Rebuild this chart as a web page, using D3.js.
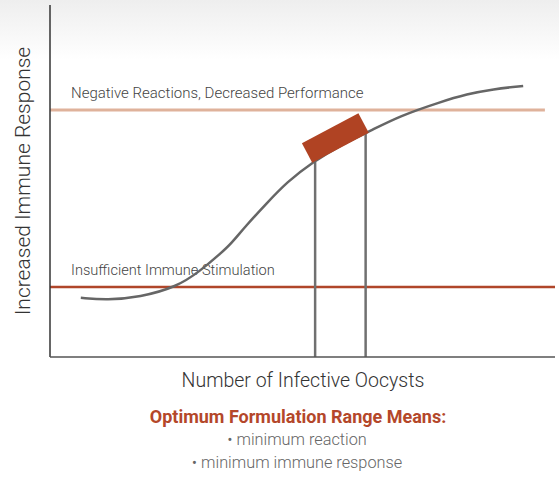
<!DOCTYPE html>
<html>
<head>
<meta charset="utf-8">
<script src="https://cdn.jsdelivr.net/npm/d3@7"></script>
<style>
  html, body { margin: 0; padding: 0; background: #fff; }
  svg { display: block; }
</style>
</head>
<body>
<script>
// ---- Data (abstract units: x 0..100 oocysts, y 0..100 immune response) ----
const curveX = [6.1, 11.3, 17.8, 25.1, 29.7, 33.7, 36.0, 38.6, 43.0, 46.9, 52.1, 57.4, 63.4, 69.3, 77.2, 82.6, 87.7, 93.7];
const curveY = [16.8, 16.2, 17.0, 19.9, 24.4, 29.3, 32.4, 37.0, 43.8, 49.7, 55.4, 60.1, 64.2, 68.5, 72.4, 74.7, 76.1, 77.0];
const thresholdNames = ["Negative Reactions, Decreased Performance", "Insufficient Immune Stimulation"];
const thresholdValues = [70.2, 19.9];
const thresholdEnds = [98, 100];
const optimumRange = [52.5, 62.5];
const optimumTops = [55.4, 63.5];
const optimumCenter = [56.5, 62.2];
const xLabel = "Number of Infective Oocysts";
const yLabel = "Increased Immune Response";
const noteTitle = "Optimum Formulation Range Means:";
const noteItems = ["minimum reaction", "minimum immune response"];

const W = 559, H = 477;
const svg = d3.select("body").append("svg").attr("width", W).attr("height", H);

// background gradient
const defs = svg.append("defs");
const grad = defs.append("linearGradient").attr("id", "bg").attr("x1", 0).attr("y1", 0).attr("x2", 0).attr("y2", 1);
grad.append("stop").attr("offset", 0).attr("stop-color", "#eeeeee");
grad.append("stop").attr("offset", 1).attr("stop-color", "#ffffff");
svg.append("rect").attr("width", W).attr("height", 60).attr("fill", "url(#bg)");

const x = d3.scaleLinear().domain([0, 100]).range([50, 555]);
const y = d3.scaleLinear().domain([0, 100]).range([357, 5]);

const font = "Roboto, 'Liberation Sans', sans-serif";

// threshold lines
const thrColors = ["#dfb29b", "#b0462a"];
const thrSizes = [15, 14.6];
thresholdValues.forEach((v, i) => {
  svg.append("line")
    .attr("x1", x(0)).attr("x2", x(thresholdEnds[i]))
    .attr("y1", y(v)).attr("y2", y(v))
    .attr("stroke", thrColors[i]).attr("stroke-width", i === 0 ? 3 : 2.5);
  svg.append("text")
    .attr("x", 71).attr("y", y(v) - 11.5)
    .attr("font-family", font).attr("font-weight", 300)
    .attr("font-size", thrSizes[i]).attr("fill", "#444")
    .text(thresholdNames[i]);
});

// vertical range lines
optimumRange.forEach((v, i) => {
  svg.append("line")
    .attr("x1", x(v)).attr("x2", x(v))
    .attr("y1", y(optimumTops[i])).attr("y2", y(0))
    .attr("stroke", "#707070").attr("stroke-width", 2.5);
});

// curve
const pts = curveX.map((d, i) => [d, curveY[i]]);
const line = d3.line().x(d => x(d[0])).y(d => y(d[1])).curve(d3.curveBasis);
svg.append("path").datum(pts).attr("d", line)
  .attr("fill", "none").attr("stroke", "#666").attr("stroke-width", 2.5);

// optimum rectangle
const cx = x(optimumCenter[0]), cy = y(optimumCenter[1]);
svg.append("rect")
  .attr("x", -32).attr("y", -11).attr("width", 64).attr("height", 22)
  .attr("fill", "#b04323")
  .attr("transform", `translate(${cx},${cy}) rotate(-28)`);

// axes
svg.append("line").attr("x1", x(0)).attr("x2", x(0)).attr("y1", y(100)).attr("y2", y(0))
  .attr("stroke", "#333").attr("stroke-width", 1.5);
svg.append("line").attr("x1", x(0)).attr("x2", x(100)).attr("y1", y(0)).attr("y2", y(0))
  .attr("stroke", "#555").attr("stroke-width", 1.5);

// axis labels
svg.append("text")
  .attr("transform", "translate(30,181) rotate(-90)")
  .attr("text-anchor", "middle")
  .attr("font-family", font).attr("font-weight", 300)
  .attr("font-size", 21).attr("fill", "#333")
  .text(yLabel);
svg.append("text")
  .attr("x", 303).attr("y", 387).attr("text-anchor", "middle")
  .attr("font-family", font).attr("font-weight", 300)
  .attr("font-size", 19.5).attr("fill", "#333")
  .text(xLabel);

// note
svg.append("text")
  .attr("x", 298).attr("y", 423).attr("text-anchor", "middle")
  .attr("font-family", font).attr("font-weight", 700)
  .attr("font-size", 18).attr("fill", "#b4472a")
  .text(noteTitle);
noteItems.forEach((t, i) => {
  svg.append("text")
    .attr("x", 297).attr("y", 445 + i * 23).attr("text-anchor", "middle")
    .attr("font-family", font).attr("font-weight", 300)
    .attr("font-size", 16.3).attr("fill", "#666")
    .text("\u2022 " + t);
});
</script>
</body>
</html>
